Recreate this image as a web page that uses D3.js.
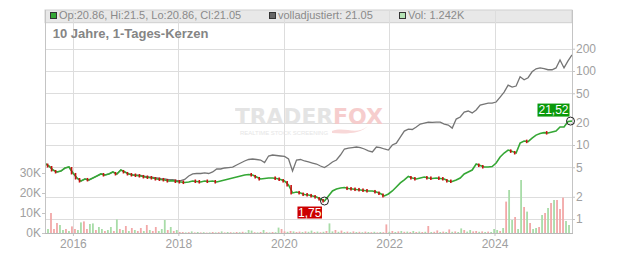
<!DOCTYPE html>
<html><head><meta charset="utf-8">
<script src="https://cdn.jsdelivr.net/npm/d3@7"></script>
<style>body{margin:0;background:#fff} svg{display:block;font-family:"Liberation Sans",Arial,sans-serif}</style>
</head><body><svg id="c" width="632" height="253"></svg>
<script>
// ---------- DATA ----------
const startYear = 2015.47, endYear = 2025.47;
const yearTicks = [2016, 2018, 2020, 2022, 2024];
const priceTicks = [1, 2, 5, 10, 20, 50, 100, 200];
const volTicks = [0, 10000, 20000, 30000];
const legendLabels = ["Op:20.86, Hi:21.5, Lo:20.86, Cl:21.05", "volladjustiert: 21.05", "Vol: 1.242K"];
const titleText = "10 Jahre, 1-Tages-Kerzen";
const lowLabel = "1,75", highLabel = "21,52";

// close price (right log axis), evenly spaced over 10 years
const priceClose = [5.62,5.20,4.59,4.32,4.45,4.89,5.04,4.19,3.58,3.26,
  3.47,3.37,3.58,3.81,4.06,3.93,4.06,4.32,4.06,4.59,
  4.32,4.06,3.93,3.87,3.81,3.70,3.64,3.58,3.47,3.42,
  3.37,3.26,3.30,3.21,3.16,3.11,3.16,3.26,3.21,3.16,
  3.26,3.21,3.26,3.16,3.26,3.37,3.47,3.58,3.70,3.81,
  3.93,4.00,3.93,3.70,3.47,3.53,3.58,3.58,3.53,3.42,
  3.26,2.88,2.25,2.32,2.25,2.14,2.11,2.05,1.98,1.86,
  1.75,2.05,2.39,2.54,2.62,2.66,2.58,2.54,2.50,2.47,
  2.43,2.39,2.39,2.32,2.21,2.05,2.18,2.39,2.71,3.07,
  3.37,3.76,3.58,3.47,3.58,3.70,3.58,3.53,3.58,3.53,
  3.47,3.26,3.21,3.37,3.58,4.06,4.32,4.59,5.53,5.28,
  5.04,5.04,5.12,5.71,6.89,7.80,8.55,8.20,7.80,10.6,
  11.3,11.1,12.4,13.6,14.3,14.7,14.5,15.0,15.4,17.5,
  17.5,20.8,21.05];

// fully adjusted series (grey line)
const adjClose = [5.62,5.20,4.59,4.32,4.45,4.89,5.04,4.19,3.58,3.26,
  3.47,3.37,3.58,3.81,4.06,3.93,4.06,4.32,4.06,4.59,
  4.32,4.06,3.93,3.90,3.87,3.78,3.70,3.66,3.58,3.50,
  3.47,3.40,3.40,3.33,3.30,3.42,3.81,4.06,4.12,4.12,
  4.19,4.12,4.32,4.74,4.74,4.89,4.96,5.04,5.37,5.71,
  6.08,6.37,6.47,6.37,6.27,5.80,7.10,7.32,7.21,7.10,
  7.00,6.47,4.45,6.27,6.37,6.08,5.90,5.71,5.53,5.20,
  4.96,5.37,5.90,6.27,7.32,8.83,9.10,9.24,9.39,9.24,
  8.83,8.32,8.06,9.39,9.24,8.83,8.55,10.0,10.6,12.8,
  15.4,16.4,16.2,17.5,19.2,19.8,20.4,20.2,20.4,20.4,
  19.2,18.6,16.9,22.4,23.9,27.9,28.8,27.1,29.7,34.7,
  35.8,36.9,36.9,38.1,44.4,51.9,64.5,60.7,62.6,83.7,
  76.2,81.1,97.6,107,110,108,104,104,110,141,
  110,137,165];

// volume in thousands, evenly spaced over 10 years
const volumeK = [3,2,10,2,5,4,1.5,2,1,3.3,
  2,1.5,5.3,5.8,2,4.5,4.8,1.5,3,2,
  1,1.5,3,1,6.8,2,1.5,3.5,1,2.5,
  1.5,1,2.5,1,4,1.5,1,3,1,2,
  6.5,1.5,3,1,1.5,0.5,0.5,0.3,0.4,0.8,
  0.3,0.5,0.3,0.4,0.2,0.3,0.5,0.3,0.4,0.8,
  0.3,0.5,0.4,0.3,0.5,0.4,0.6,0.3,1.5,1.2,
  0.4,0.3,0.5,1.5,0.4,0.3,0.5,0.4,2.7,2,
  0.8,0.6,1,0.8,0.5,0.7,0.5,0.8,0.6,1.2,
  0.5,0.7,0.4,0.6,1,4.8,0.8,1.5,0.6,1.2,
  0.5,0.7,0.4,0.8,0.5,0.6,0.4,0.7,0.5,0.4,
  0.6,0.3,0.5,0.4,4.3,0.6,1,0.5,0.8,1,
  0.6,0.7,0.5,1,0.5,0.7,0.5,0.6,3.5,0.5,
  0.6,1.3,0.5,0.7,0.5,1.8,0.6,0.8,0.5,2.3,
  1.5,0.7,1.5,0.8,1,0.6,0.8,0.5,0.7,0.5,
  2,1.5,1,2.5,15.7,21.5,6.5,8,2,26.5,
  13,10.7,5,2,2.5,3,9,10,12.5,15,
  16.5,16.5,12,17.7,6,4];
// direction of each volume bar: g = up day, r = down day
const volumeDir = "rgrrrggrgr" + "rggrrggrgg" + "rggrgrgrgr" + "grrgrgrrgg" + "grgrgrrgrg" +
  "rgrgrgrgrg" + "rgrgrgrggg" + "rgrgrgrggr" + "rgrgrrgrgg" + "rgrgrggrgr" +
  "grgrgrgrgr" + "grgrrgrgrg" + "rgrgrgrgrg" + "rrgrgrgrgg" + "rggrrgrgrg" +
  "ggrgrggrgg" + "rgrggrgrgr" + "grrrgg";

// ---------- LAYOUT ----------
const L = 45, R = 572, T = 10, B = 233;
const C = {grid:"#dddddd", axis:"#c4c4c4", label:"#a0a0a0", green:"#35a735", red:"#c81010",
  grey:"#757575", volG:"#a8dca8", volR:"#f2a8a8", band:"#e8e8e8"};

const svg = d3.select("#c");
const x = d3.scaleLinear().domain([startYear, endYear]).range([L, R]);
const yP = d3.scaleLog().domain([0.647, 667]).range([B, T]);
const yV = d3.scaleLinear().domain([0, 10000]).range([B, B - 20]);
const tP = i => startYear + i * (endYear - startYear) / (priceClose.length - 1);
const tV = i => startYear + i * (endYear - startYear) / volumeK.length;

// header band
svg.append("rect").attr("x", L).attr("y", T).attr("width", R - L).attr("height", 12.7)
  .attr("fill", C.band).attr("stroke", "#cfcfcf").attr("stroke-width", 1);

// grid
svg.append("g").selectAll("line").data(yearTicks).join("line")
  .attr("x1", d => Math.round(x(d)) + 0.5).attr("x2", d => Math.round(x(d)) + 0.5)
  .attr("y1", T).attr("y2", B).attr("stroke", C.grid);
svg.append("g").selectAll("line").data(priceTicks).join("line")
  .attr("x1", L).attr("x2", R)
  .attr("y1", d => Math.round(yP(d)) + 0.5).attr("y2", d => Math.round(yP(d)) + 0.5)
  .attr("stroke", C.grid);

// clip
svg.append("clipPath").attr("id", "clip").append("rect")
  .attr("x", L).attr("y", T).attr("width", R - L).attr("height", B - T);
const plot = svg.append("g").attr("clip-path", "url(#clip)");

// watermark
const wm = plot.append("g").attr("opacity", 0.9);
wm.append("text").attr("x", 235).attr("y", 123.5).attr("font-family", "DejaVu Sans").attr("font-weight", "bold")
  .attr("font-size", 21).attr("textLength", 98).attr("lengthAdjust", "spacingAndGlyphs")
  .attr("fill", "#e2e2e2").text("TRADER");
wm.append("text").attr("x", 333).attr("y", 123.5).attr("font-family", "DejaVu Sans").attr("font-weight", "bold")
  .attr("font-size", 21).attr("textLength", 50).attr("lengthAdjust", "spacingAndGlyphs")
  .attr("fill", "#f6c8c8").text("FOX");
wm.append("text").attr("x", 240).attr("y", 135).attr("font-size", 5).attr("textLength", 88)
  .attr("lengthAdjust", "spacingAndGlyphs").attr("fill", "#e4e4e4").text("REALTIME STOCK SCREENING");
wm.append("path").attr("d", "M332,131 C345,126 356,136 368,126 C360,134 346,134 332,133 Z").attr("fill", "#f8d4d4");

// volume bars
plot.append("g").selectAll("rect").data(volumeK).join("rect")
  .attr("x", (d, i) => x(tV(i)) - 0.9).attr("width", 1.8)
  .attr("y", d => yV(d * 1000)).attr("height", d => B - yV(d * 1000))
  .attr("fill", (d, i) => volumeDir[i] === "g" ? C.volG : C.volR);

// grey adjusted line
plot.append("path").datum(adjClose)
  .attr("d", d3.line().x((d, i) => x(tP(i))).y(d => yP(d)))
  .attr("fill", "none").attr("stroke", C.grey).attr("stroke-width", 1.3);

// price line (green) with small red candles where the close fell
plot.append("path").datum(priceClose)
  .attr("d", d3.line().x((d, i) => x(tP(i))).y(d => yP(d)))
  .attr("fill", "none").attr("stroke", C.green).attr("stroke-width", 1.6);
const downs = priceClose.map((d, i) => i).filter(i => i > 0 && priceClose[i] < priceClose[i - 1]);
plot.append("g").selectAll("rect").data(downs).join("rect")
  .attr("x", i => x(tP(i)) - 2.2).attr("width", 1.6)
  .attr("y", i => Math.min(yP(priceClose[i - 1]), yP(priceClose[i]) - 2))
  .attr("height", i => Math.max(yP(priceClose[i]) - yP(priceClose[i - 1]), 2) + 1.5)
  .attr("fill", C.red);

// axes
const axStyle = g => {
  g.select(".domain").remove();
  g.selectAll(".tick line").attr("stroke", C.axis);
  g.selectAll("text").attr("fill", C.label).attr("font-size", 12).attr("font-family", "Liberation Sans, Arial, sans-serif");
};
svg.append("g").attr("transform", `translate(${R},0)`)
  .call(d3.axisRight(yP).tickValues(priceTicks).tickFormat(d3.format("d")).tickSize(3).tickPadding(1))
  .call(axStyle);
svg.append("g").attr("transform", `translate(${L},0)`)
  .call(d3.axisLeft(yV).tickValues(volTicks).tickFormat(d => d / 1000 + "K").tickSize(3).tickPadding(1))
  .call(axStyle);
svg.append("g").attr("transform", `translate(0,${B})`)
  .call(d3.axisBottom(x).tickValues(yearTicks).tickFormat(d3.format("d")).tickSize(3).tickPadding(3))
  .call(axStyle);
// frame lines
svg.append("line").attr("x1", L + 0.5).attr("x2", L + 0.5).attr("y1", T).attr("y2", B).attr("stroke", C.axis);
svg.append("line").attr("x1", R + 0.5).attr("x2", R + 0.5).attr("y1", T).attr("y2", B).attr("stroke", C.axis);
svg.append("line").attr("x1", L).attr("x2", R + 1).attr("y1", B + 0.5).attr("y2", B + 0.5).attr("stroke", "#b8b8b8");

// markers
const iLow = d3.minIndex(priceClose), iHigh = priceClose.length - 1;
const lx = x(tP(iLow)), ly = yP(priceClose[iLow]);
const hx = x(tP(iHigh)) - 1.5, hy = yP(priceClose[iHigh]);
svg.append("rect").attr("x", lx - 27).attr("y", ly + 5.5).attr("width", 24.5).attr("height", 12).attr("fill", "#cc0000");
svg.append("text").attr("x", lx - 14.75).attr("y", ly + 15.8).attr("text-anchor", "middle")
  .attr("font-size", 12).attr("fill", "#fff").text(lowLabel);
svg.append("circle").attr("cx", lx).attr("cy", ly).attr("r", 4).attr("fill", "none").attr("stroke", "#222").attr("stroke-width", 1);
svg.append("rect").attr("x", hx - 33).attr("y", hy - 17.5).attr("width", 32).attr("height", 13).attr("fill", "#0a990a");
svg.append("text").attr("x", hx - 17).attr("y", hy - 6.7).attr("text-anchor", "middle")
  .attr("font-size", 12).attr("fill", "#fff").text(highLabel);
svg.append("circle").attr("cx", hx).attr("cy", hy).attr("r", 4).attr("fill", "none").attr("stroke", "#222").attr("stroke-width", 1);

// legend
const legX = [50.5, 269.5, 399.5];
const legFill = [C.green, "#666666", "#b4e2b4"];
const leg = svg.append("g");
leg.selectAll("rect").data(legendLabels).join("rect")
  .attr("x", (d, i) => legX[i]).attr("y", 12.5).attr("width", 6).attr("height", 6)
  .attr("fill", (d, i) => legFill[i]).attr("stroke", "#333").attr("stroke-width", 1);
leg.selectAll("text").data(legendLabels).join("text")
  .attr("x", (d, i) => legX[i] + 8.5).attr("y", 18.6).attr("font-size", 11).attr("fill", "#8a8a8a").text(d => d);

// title
svg.append("text").attr("x", 52.7).attr("y", 37.5).attr("font-size", 13).attr("font-weight", "bold")
  .attr("fill", "#858585").text(titleText);
</script></body></html>
